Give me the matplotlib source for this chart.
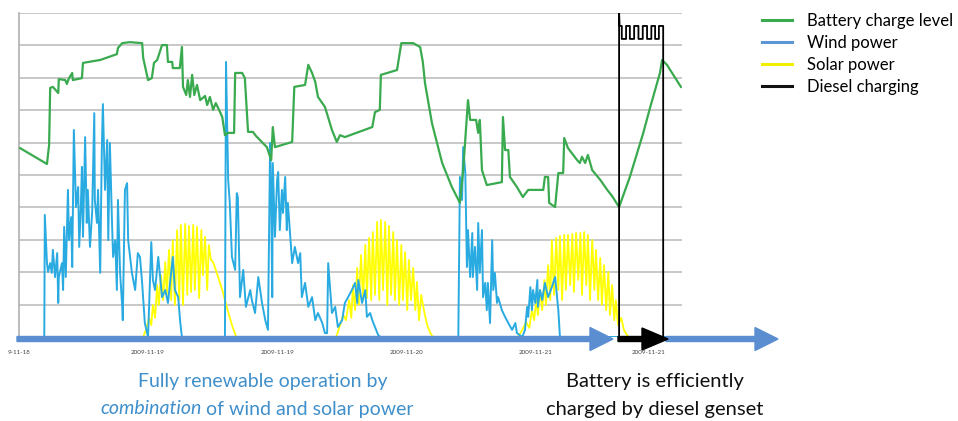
import matplotlib
matplotlib.use("Agg")
import matplotlib.pyplot as plt
from matplotlib.lines import Line2D
from matplotlib.patches import FancyArrow

plt.rcParams['font.family'] = ['Lato', 'DejaVu Sans']

# DATA  (time in hours from start, values in % of full scale)
battery_t = [0.2, 5.2, 5.6, 5.8, 6.3, 7.3, 7.4, 8.6, 8.9, 9.3, 9.9, 10.0, 11.7, 11.9, 15.1, 18.2, 18.4, 19.2,
             20.6, 22.9, 23.1, 24.0, 24.7, 25.1, 25.7, 26.6, 27.5, 27.7, 28.5, 28.6, 29.9, 30.3, 30.5, 31.1,
             31.4, 31.8, 32.2, 32.6, 33.1, 33.7, 34.6, 35.0, 35.5, 36.1, 36.6, 37.4, 37.8, 38.3, 38.9, 40.0,
             40.2, 41.5, 42.0, 42.6, 43.5, 44.1, 44.8, 46.1, 46.9, 47.2, 47.6, 50.8, 51.2, 53.2, 53.8, 54.5,
             55.1, 55.6, 56.9, 58.2, 59.1, 59.7, 60.6, 65.7, 66.2, 67.1, 67.3, 70.3, 71.1, 73.3, 74.6, 75.1,
             75.5, 76.8, 78.7, 80.5, 82.0, 82.6, 83.5, 83.9, 85.0, 85.4, 85.7, 86.1, 87.0, 89.8, 90.0, 90.4,
             91.0, 91.3, 92.6, 93.7, 94.7, 97.5, 97.8, 98.4, 98.6, 99.7, 100.3, 101.2, 101.4, 102.1, 103.8,
             104.3, 104.7, 105.3, 105.8, 106.6, 108.1, 109.4, 110.3, 111.6, 113.6, 116.1, 117.4, 119.2,
             119.6, 120.5, 123.1]
battery_v = [58.3, 53.4, 59.3, 76.9, 77.2, 75.3, 79.6, 79.3, 78.1, 79.9, 81.5, 79.3, 79.9, 84.6, 85.5, 87.3, 89.2,
             90.7, 91.0, 90.7, 86.1, 79.3, 79.9, 84.6, 85.5, 90.1, 90.1, 84.9, 84.9, 83.0, 83.0, 89.5, 77.2,
             74.7, 79.3, 74.1, 80.9, 74.7, 77.8, 73.1, 74.4, 71.6, 74.1, 70.1, 72.2, 69.4, 67.9, 62.3, 63.0,
             63.0, 81.5, 81.5, 79.9, 63.3, 63.3, 62.0, 60.8, 58.6, 54.6, 64.8, 58.6, 60.2, 77.2, 77.8, 84.0,
             81.5, 78.7, 74.1, 71.0, 63.9, 60.2, 62.3, 61.7, 64.8, 69.4, 70.1, 80.9, 82.4, 90.7, 90.7, 89.5,
             84.9, 78.4, 66.0, 53.7, 46.3, 41.4, 51.5, 73.1, 67.0, 67.0, 63.0, 67.0, 51.5, 46.9, 47.8, 67.9,
             57.7, 57.7, 49.4, 46.3, 43.2, 45.4, 45.4, 49.4, 49.4, 41.4, 40.1, 50.6, 50.6, 61.4, 58.3, 54.6,
             53.7, 55.6, 53.7, 56.2, 51.5, 48.5, 45.4, 43.5, 40.1, 49.4, 63.0, 71.0, 81.5, 85.5, 84.0, 77.2]

wind_t = [0.0, 4.7, 4.8, 5.2, 5.4, 5.8, 6.1, 6.3, 6.7, 7.1, 7.3, 7.4, 8.0, 8.2, 8.4, 8.7, 9.1, 9.3, 9.7, 9.9,
          10.2, 10.6, 11.0, 11.2, 11.5, 11.7, 11.9, 12.3, 12.6, 12.8, 13.2, 13.6, 14.0, 14.1, 14.5, 14.7,
          15.1, 15.4, 15.6, 16.0, 16.4, 16.6, 16.9, 17.3, 17.5, 17.9, 18.2, 18.4, 18.8, 19.2, 19.3, 19.7,
          20.1, 20.3, 21.0, 21.6, 22.1, 22.5, 22.9, 23.4, 24.0, 24.6, 24.9, 25.3, 25.9, 26.6, 27.2, 27.7,
          28.1, 28.6, 29.0, 29.6, 30.0, 30.3, 38.3, 38.5, 38.9, 39.2, 39.6, 40.2, 40.5, 40.7, 41.1, 41.7,
          42.2, 43.0, 43.3, 43.9, 44.5, 45.2, 45.8, 46.3, 46.7, 46.9, 47.1, 47.2, 47.6, 48.0, 48.2, 48.5,
          48.9, 49.1, 49.5, 49.8, 50.0, 50.8, 51.3, 51.9, 52.3, 52.6, 53.2, 53.8, 54.5, 55.1, 55.6, 56.4,
          56.9, 57.3, 57.5, 58.2, 58.8, 59.3, 60.1, 60.6, 61.2, 61.9, 62.5, 62.9, 63.1, 63.8, 64.4, 64.7,
          65.3, 65.7, 66.2, 66.8, 67.2, 81.7, 82.0, 82.4, 82.6, 83.0, 83.3, 83.5, 83.9, 84.3, 84.4, 84.8,
          85.2, 85.4, 85.7, 86.1, 86.3, 86.7, 87.0, 87.2, 87.6, 88.0, 88.2, 88.5, 88.9, 89.1, 89.8, 90.4,
          91.0, 91.7, 92.3, 92.6, 93.6, 94.1, 94.5, 94.7, 95.1, 95.4, 95.6, 96.0, 96.4, 96.5, 96.9, 97.3,
          97.8, 98.4, 99.1, 99.7, 100.3, 100.6, 123.3]
wind_v = [0, 0, 37.7, 22.8, 20.1, 22.8, 19.8, 26.9, 18.5, 25.9, 10.5, 18.5, 22.8, 14.5, 34.0, 18.5, 45.4, 29.9,
          37.0, 21.6, 63.9, 40.1, 46.3, 27.8, 40.1, 52.5, 30.9, 61.7, 35.2, 45.4, 27.8, 38.3, 69.1, 42.3,
          35.2, 45.4, 19.8, 57.7, 71.9, 45.4, 60.8, 29.9, 59.9, 35.2, 24.7, 29.9, 14.5, 42.3, 19.8, 9.3,
          5.2, 45.4, 47.5, 29.9, 19.8, 14.5, 25.9, 24.7, 16.7, 4.3, 0, 29.3, 17.6, 14.5, 24.7, 12.3, 14.5,
          10.5, 16.7, 24.7, 14.5, 12.3, 4.3, 0, 0, 84.9, 48.5, 41.4, 24.7, 20.7, 44.4, 43.2, 12.3, 20.7,
          9.3, 14.5, 11.4, 7.4, 18.5, 10.5, 5.2, 2.2, 59.9, 42.3, 12.3, 53.7, 30.9, 48.5, 50.9, 33.0,
          45.4, 38.3, 49.4, 33.0, 41.4, 22.8, 27.8, 22.8, 25.9, 12.3, 16.7, 9.3, 12.3, 5.2, 7.4, 4.3,
          1.2, 1.2, 22.8, 7.4, 9.3, 3.1, 5.2, 10.5, 12.3, 14.5, 16.7, 10.5, 17.6, 10.5, 14.5, 6.2,
          7.4, 5.2, 3.1, 0.6, 0, 0, 49.4, 42.3, 58.6, 50.6, 21.6, 33.0, 18.5, 32.1, 18.5, 27.8,
          14.5, 35.2, 19.8, 33.0, 12.3, 16.7, 8.3, 16.7, 4.3, 29.9, 14.5, 19.8, 10.5, 12.3, 8.3, 6.2,
          4.3, 2.2, 4.3, 1.2, 0, 2.2, 9.3, 6.2, 15.4, 8.3, 14.5, 10.5, 17.6, 9.3, 14.5, 11.4,
          16.7, 12.3, 15.4, 18.5, 8.3, 0, 0]

solar_t = [0.0, 23.1, 23.6, 24.2, 24.6, 24.9, 25.3, 25.7, 26.0, 26.4, 26.8, 27.2, 27.5, 27.9, 28.3, 28.6, 29.0,
           29.4, 29.8, 30.1, 30.5, 30.9, 31.3, 31.6, 32.0, 32.4, 32.7, 33.1, 33.5, 33.9, 34.2, 34.6, 35.0,
           35.3, 35.7, 36.1, 36.6, 37.2, 37.8, 38.3, 38.9, 39.6, 40.4,
           59.0, 59.7, 60.3, 60.8, 61.4, 61.8, 62.1, 62.5, 62.9, 63.2, 63.6, 64.0, 64.4, 64.7, 65.1, 65.5,
           65.8, 66.2, 66.6, 67.0, 67.3, 67.7, 68.1, 68.5, 68.8, 69.2, 69.6, 69.9, 70.3, 70.7, 71.1, 71.4,
           71.8, 72.2, 72.5, 72.9, 73.3, 73.7, 74.0, 74.4, 74.8, 75.3, 75.9, 76.5, 77.0,
           92.8, 93.6, 94.3, 94.9, 95.4, 95.8, 96.2, 96.5, 96.9, 97.3, 97.7, 98.0, 98.4, 98.8, 99.1, 99.5,
           99.9, 100.3, 100.6, 101.0, 101.4, 101.7, 102.1, 102.5, 102.9, 103.2, 103.6, 104.0, 104.4, 104.7,
           105.1, 105.5, 105.8, 106.2, 106.6, 107.0, 107.3, 107.7, 108.1, 108.4, 108.8, 109.2, 109.6, 109.9,
           110.3, 110.7, 111.0, 111.4, 112.0, 112.5, 113.3, 123.3]
solar_v = [0, 0, 2.2, 5.9, 3.7, 9.9, 5.9, 16.0, 9.9, 19.1, 11.4, 23.1, 13.0, 26.9, 11.4, 29.9, 9.9,
           33.0, 11.4, 34.6, 9.9, 34.9, 13.0, 34.3, 13.9, 34.6, 14.5, 34.0, 12.0, 33.0, 19.1, 30.9, 14.5,
           28.4, 23.8, 23.1, 20.7, 17.6, 14.5, 11.4, 7.7, 3.7, 0,
           0, 3.7, 6.8, 5.2, 11.4, 5.9, 16.0, 8.3, 21.3, 9.9, 25.3, 11.4, 28.4, 12.0, 30.6, 11.4,
           32.4, 13.0, 35.5, 11.4, 36.1, 14.5, 35.5, 9.9, 34.3, 13.0, 32.4, 11.4, 29.9, 9.9, 28.4, 11.4,
           26.2, 8.3, 23.8, 11.4, 21.3, 8.3, 17.0, 5.2, 13.0, 8.3, 3.7, 1.2, 0,
           0, 2.2, 4.6, 2.8, 8.3, 5.2, 11.4, 6.8, 14.5, 8.3, 17.6, 9.9, 22.2, 11.4, 29.9, 13.0,
           30.6, 14.5, 31.2, 11.4, 31.5, 14.5, 31.5, 16.0, 31.8, 13.9, 32.1, 17.6, 32.1, 13.0,
           32.4, 16.0, 31.5, 11.4, 29.9, 14.5, 26.9, 11.4, 24.4, 9.9, 22.2, 8.3, 20.1, 6.8,
           16.0, 5.2, 11.4, 3.7, 5.9, 2.2, 0, 0]

diesel_t = [111.6, 111.6, 111.7, 112.1, 112.1, 112.9, 112.9, 113.6, 113.6, 114.4, 114.4, 115.2, 115.2,
            116.0, 116.0, 116.8, 116.8, 117.6, 117.6, 118.3, 118.3, 119.0, 119.0, 119.8, 119.8]
diesel_v = [0, 100, 96, 96, 92, 92, 96, 96, 92, 92, 96, 96, 92, 92, 96, 96, 92, 92, 96, 96, 92, 92, 96, 96, 0]

tick_hours = [0, 24, 48, 72, 96, 117]
tick_labels = ["9-11-18", "2009-11-19", "2009-11-19", "2009-11-20", "2009-11-21", "2009-11-21"]

series_names = ["Battery charge level", "Wind power", "Solar power", "Diesel charging"]
legend_colors = ["#3aaa4f", "#5b95d3", "#f2ee00", "#111111"]

# FIGURE
fig = plt.figure(figsize=(9.58, 4.21), dpi=100)
ax = fig.add_axes([19/958, 84/421, 663/958, 324/421])

ax.plot(solar_t, solar_v, color='#ffff00', lw=1.3, zorder=2)
ax.plot(wind_t, wind_v, color='#29abe2', lw=1.4, zorder=3)
ax.plot(battery_t, battery_v, color='#3aaa4f', lw=1.6, zorder=4)
ax.plot(diesel_t, diesel_v, color='black', lw=1.3, zorder=5)

ax.set_xlim(0, 123.3)
ax.set_ylim(0, 100)
ax.set_yticks(range(0, 101, 10))
ax.yaxis.grid(True, color='#c4c4c4', lw=1.3, zorder=0)
ax.set_axisbelow(True)
ax.tick_params(axis='y', length=0, labelleft=False)
ax.set_xticks(tick_hours)
ax.set_xticklabels(tick_labels, fontsize=4.5, color='#444444')
ax.tick_params(axis='x', length=0, pad=9)
for s in ['top', 'right', 'bottom']:
    ax.spines[s].set_visible(False)
ax.spines['left'].set_color('#b0b0b0')
ax.spines['left'].set_linewidth(1.2)

# arrows (inches, figure)
tr = fig.dpi_scale_trans
fig.add_artist(FancyArrow(0.17, 0.82, 5.96, 0, width=0.05, head_width=0.23, head_length=0.23,
                          length_includes_head=True, color='#5a8ed1', transform=tr, zorder=10))
fig.add_artist(FancyArrow(6.18, 0.82, 0.50, 0, width=0.05, head_width=0.22, head_length=0.26,
                          length_includes_head=True, color='black', transform=tr, zorder=11))
fig.add_artist(FancyArrow(6.66, 0.82, 1.12, 0, width=0.05, head_width=0.23, head_length=0.23,
                          length_includes_head=True, color='#5a8ed1', transform=tr, zorder=10))

# legend
handles = [Line2D([], [], color=c, lw=2.2) for c in legend_colors]
fig.legend(handles, series_names, loc='upper left', bbox_to_anchor=(762/958, 1 - 13/421),
           frameon=False, fontsize=12, handlelength=1.8, handletextpad=0.9, labelspacing=0.36,
           borderpad=0, borderaxespad=0)

# captions
blue_txt = '#3f8fcb'
fig.text(263/958, 1 - 381/421, "Fully renewable operation by", color=blue_txt, fontsize=14,
         ha='center', va='center')
fig.text(655/958, 1 - 381/421, "Battery is efficiently", color='#111111', fontsize=14.5,
         ha='center', va='center')
fig.text(655/958, 1 - 409/421, "charged by diesel genset", color='#111111', fontsize=14.5,
         ha='center', va='center')

t1 = fig.text(0, 1 - 409/421, "combination", color=blue_txt, fontsize=14, style='italic',
              ha='left', va='center')
t2 = fig.text(0, 1 - 409/421, "of wind and solar power", color=blue_txt, fontsize=14,
              ha='left', va='center')
fig.canvas.draw()
r = fig.canvas.get_renderer()
w1 = t1.get_window_extent(r).width
w2 = t2.get_window_extent(r).width
gap = 4.5
x0 = 257 - (w1 + gap + w2) / 2
t1.set_x(x0 / 958)
t2.set_x((x0 + w1 + gap) / 958)

fig.savefig("out.png", dpi=100)
